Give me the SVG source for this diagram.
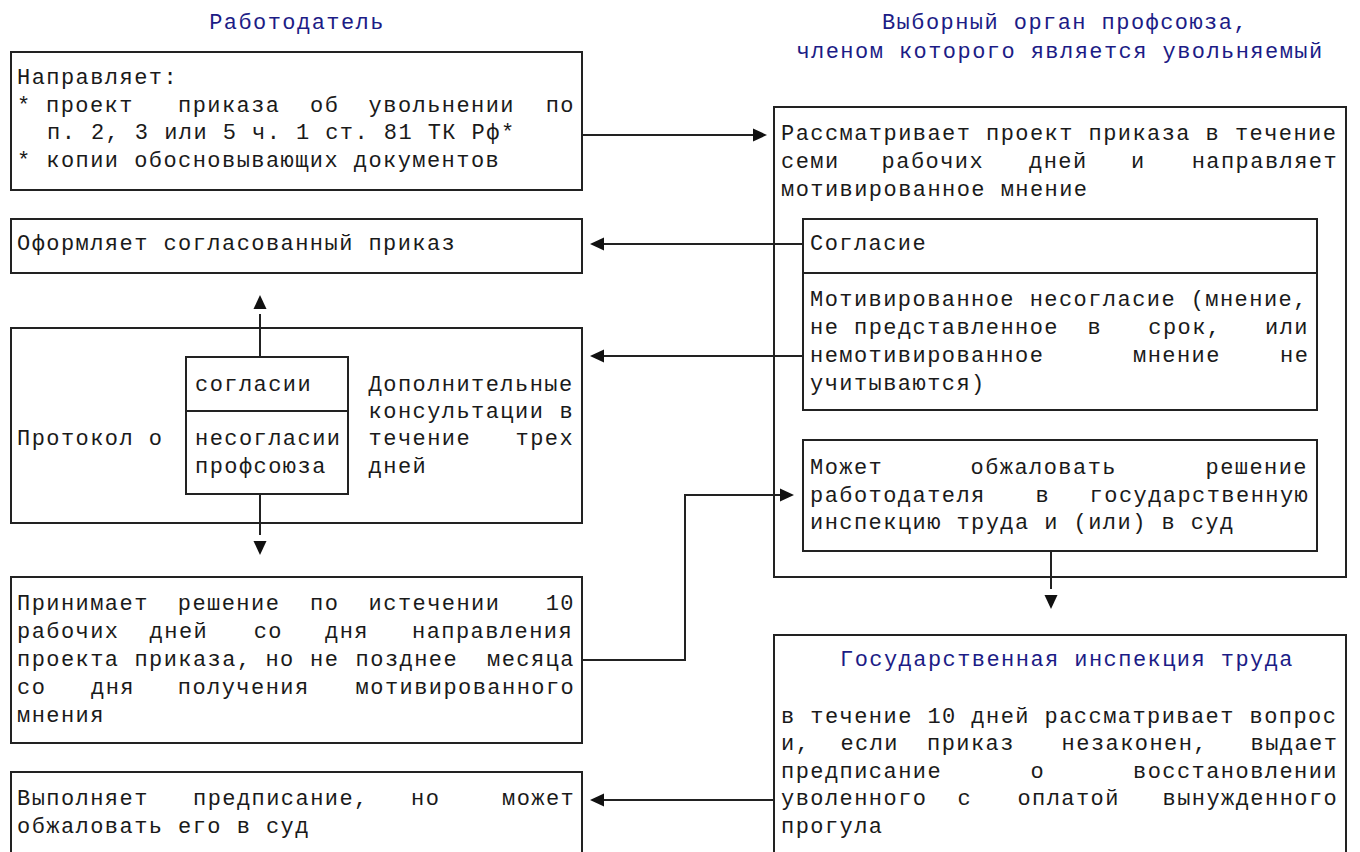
<svg xmlns="http://www.w3.org/2000/svg" xmlns:xlink="http://www.w3.org/1999/xlink" width="1360" height="852" viewBox="0 0 1360 852">
<style>
.box{fill:#fff;stroke:#222;stroke-width:2}
.div{stroke:#222;stroke-width:2;fill:none}
.con{stroke:#222;stroke-width:2;fill:none}
.ah{fill:#111}
text{font-family:"Liberation Mono","Courier New",monospace;font-size:22px;letter-spacing:1.44px;fill:#1a1a1a}
.title{fill:#1c1c86}
.mid{text-anchor:middle}
</style>
<defs>
<path id="ah" d="M0,0 L-14,-6.5 L-14,6.5 Z"/>
</defs>
<rect width="1360" height="852" fill="#fff"/>

<g id="title-employer">
<text class="title mid" x="297" y="28.5">Работодатель</text>
</g>
<g id="title-union">
<text class="title mid" x="1065" y="28.5">Выборный орган профсоюза,</text>
<text class="title mid" x="1060" y="57.5">членом которого является увольняемый</text>
</g>

<g id="n-send">
<rect class="box" x="11" y="52" width="571" height="138"/>
<text x="17" y="83.5">Направляет:</text>
<text y="111.5"><tspan x="17">*</tspan><tspan x="46">проект</tspan><tspan x="178">приказа</tspan><tspan x="310">об</tspan><tspan x="368.6">увольнении</tspan><tspan x="545.7">по</tspan></text>
<text x="47" y="139">п. 2, 3 или 5 ч. 1 ст. 81 ТК Рф*</text>
<text x="17" y="166.5">* копии обосновывающих документов</text>
</g>

<g id="n-issue">
<rect class="box" x="11" y="219" width="571" height="54"/>
<text x="17" y="249.5">Оформляет согласованный приказ</text>
</g>

<g id="n-protocol">
<rect class="box" x="11" y="328" width="571" height="195"/>
<text x="17" y="445">Протокол о</text>
<rect class="box" x="186" y="357" width="162" height="137"/>
<line class="div" x1="186" y1="411" x2="348" y2="411"/>
<text x="195" y="390.5">согласии</text>
<text x="195" y="445">несогласии</text>
<text x="195" y="472.5">профсоюза</text>
<text x="368.6" y="390.5">Дополнительные</text>
<text y="418"><tspan x="368.6">консультации</tspan><tspan x="559.5">в</tspan></text>
<text y="445"><tspan x="368.6">течение</tspan><tspan x="515.5">трех</tspan></text>
<text x="368.6" y="472.5">дней</text>
</g>

<g id="n-decide">
<rect class="box" x="11" y="577" width="571" height="166"/>
<text y="609.5"><tspan x="17">Принимает</tspan><tspan x="177.8">решение</tspan><tspan x="310">по</tspan><tspan x="368.6">истечении</tspan><tspan x="545.7">10</tspan></text>
<text y="638"><tspan x="17">рабочих</tspan><tspan x="149.6">дней</tspan><tspan x="253.7">со</tspan><tspan x="325">дня</tspan><tspan x="412">направления</tspan></text>
<text y="665.5"><tspan x="17">проекта</tspan><tspan x="134.4">приказа,</tspan><tspan x="265.4">но</tspan><tspan x="310">не</tspan><tspan x="355.6">позднее</tspan><tspan x="487">месяца</tspan></text>
<text y="693.5"><tspan x="17">со</tspan><tspan x="91">дня</tspan><tspan x="177.8">получения</tspan><tspan x="355.6">мотивированного</tspan></text>
<text x="17" y="722">мнения</text>
</g>

<g id="n-comply">
<rect class="box" x="11" y="772" width="571" height="110"/>
<text y="804.5"><tspan x="17">Выполняет</tspan><tspan x="193">предписание,</tspan><tspan x="411">но</tspan><tspan x="502">может</tspan></text>
<text x="17" y="832.5">обжаловать его в суд</text>
</g>

<g id="n-union">
<rect class="box" x="774" y="107" width="572" height="470"/>
<text x="781" y="139.5">Рассматривает проект приказа в течение</text>
<text y="167.5"><tspan x="781">семи</tspan><tspan x="881.6">рабочих</tspan><tspan x="1029">дней</tspan><tspan x="1131">и</tspan><tspan x="1191.7">направляет</tspan></text>
<text x="781" y="195.5">мотивированное мнение</text>
</g>

<g id="n-opinion">
<rect class="box" x="803" y="219" width="514" height="191"/>
<line class="div" x1="803" y1="273" x2="1317" y2="273"/>
<text x="810" y="249.5">Согласие</text>
<text x="810" y="305.5">Мотивированное несогласие (мнение,</text>
<text y="333.5"><tspan x="810">не</tspan><tspan x="854">представленное</tspan><tspan x="1087.6">в</tspan><tspan x="1148.3">срок,</tspan><tspan x="1265">или</tspan></text>
<text y="361.5"><tspan x="810">немотивированное</tspan><tspan x="1133">мнение</tspan><tspan x="1280">не</tspan></text>
<text x="810" y="389.5">учитываются)</text>
</g>

<g id="n-appeal">
<rect class="box" x="803" y="440" width="514" height="111"/>
<text y="473.5"><tspan x="810">Может</tspan><tspan x="970.5">обжаловать</tspan><tspan x="1205.5">решение</tspan></text>
<text y="501.5"><tspan x="810">работодателя</tspan><tspan x="1035.6">в</tspan><tspan x="1089.6">государственную</tspan></text>
<text x="810" y="528.5">инспекцию труда и (или) в суд</text>
</g>

<g id="n-inspection">
<rect class="box" x="774" y="635" width="572" height="240"/>
<text class="title mid" x="1067" y="665.5">Государственная инспекция труда</text>
<text x="781" y="722.5">в течение 10 дней рассматривает вопрос</text>
<text y="749.5"><tspan x="781">и,</tspan><tspan x="840.4">если</tspan><tspan x="927">приказ</tspan><tspan x="1061.6">незаконен,</tspan><tspan x="1250.5">выдает</tspan></text>
<text y="777.5"><tspan x="781">предписание</tspan><tspan x="1030.4">о</tspan><tspan x="1133">восстановлении</tspan></text>
<text y="805"><tspan x="781">уволенного</tspan><tspan x="957.5">с</tspan><tspan x="1017.4">оплатой</tspan><tspan x="1162.5">вынужденного</tspan></text>
<text x="781" y="832.5">прогула</text>
</g>

<g id="connectors">
<path class="con" d="M582,135 H755"/>
<use class="ah" href="#ah" xlink:href="#ah" transform="translate(767,135)"/>
<path class="con" d="M803,244 H602"/>
<use class="ah" href="#ah" xlink:href="#ah" transform="translate(590,244) rotate(180)"/>
<path class="con" d="M803,356 H602"/>
<use class="ah" href="#ah" xlink:href="#ah" transform="translate(590,356) rotate(180)"/>
<path class="con" d="M260,357 V314"/>
<use class="ah" href="#ah" xlink:href="#ah" transform="translate(260,295) rotate(-90)"/>
<path class="con" d="M260,494 V535"/>
<use class="ah" href="#ah" xlink:href="#ah" transform="translate(260,555) rotate(90)"/>
<path class="con" d="M582,660 H685 V495 H782"/>
<use class="ah" href="#ah" xlink:href="#ah" transform="translate(794,495)"/>
<path class="con" d="M1051,551 V589"/>
<use class="ah" href="#ah" xlink:href="#ah" transform="translate(1051,609) rotate(90)"/>
<path class="con" d="M774,800 H602"/>
<use class="ah" href="#ah" xlink:href="#ah" transform="translate(590,800) rotate(180)"/>
</g>
</svg>
